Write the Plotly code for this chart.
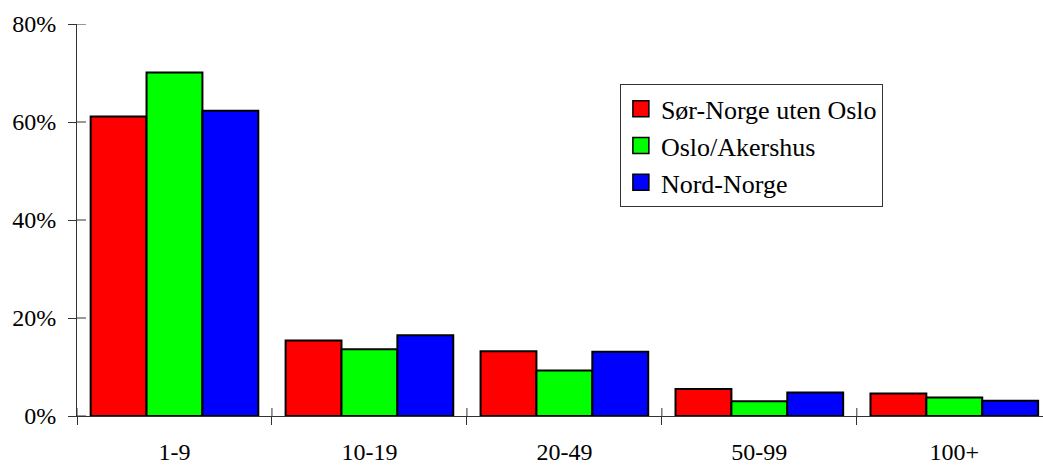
import plotly.graph_objects as go

categories = ["1-9", "10-19", "20-49", "50-99", "100+"]
series_names = ["Sør-Norge uten Oslo", "Oslo/Akershus", "Nord-Norge"]
sor_norge = [61.1, 15.4, 13.2, 5.5, 4.6]
oslo_akershus = [70.1, 13.6, 9.3, 3.0, 3.8]
nord_norge = [62.3, 16.5, 13.1, 4.8, 3.1]
y_tick_values = [0, 20, 40, 60, 80]
y_tick_labels = ["0%", "20%", "40%", "60%", "80%"]
colors = ["#FF0000", "#00FF00", "#0000FF"]

FONT = "Liberation Serif"

fig = go.Figure()
for i, (name, vals) in enumerate(zip(series_names, [sor_norge, oslo_akershus, nord_norge])):
    fig.add_trace(go.Bar(
        x=categories, y=vals, name=name, showlegend=False,
        marker=dict(color=colors[i], line=dict(color="#000000", width=2)),
    ))
# legend-only entries with larger square swatches
for i, name in enumerate(series_names):
    fig.add_trace(go.Scatter(
        x=[None], y=[None], mode="markers", name=name, legendgroup=f"g{i}",
        marker=dict(symbol="square", size=16, color=colors[i],
                    line=dict(color="#000000", width=1.5)),
    ))

# inside halves of the crossing tick marks
shapes = []
for b in [-0.5, 0.5, 1.5, 2.5, 3.5, 4.5]:
    shapes.append(dict(type="line", xref="x", yref="y", x0=b, x1=b,
                       ysizemode="pixel", yanchor=0, y0=0, y1=8,
                       line=dict(color="#333333", width=1)))
for t in y_tick_values:
    shapes.append(dict(type="line", xref="x", yref="y", y0=t, y1=t,
                       xsizemode="pixel", xanchor=-0.5, x0=0, x1=9,
                       line=dict(color="#333333", width=1)))

fig.update_layout(
    width=1043, height=465,
    margin=dict(l=77, r=0, t=24, b=49, autoexpand=False),
    paper_bgcolor="white", plot_bgcolor="white",
    barmode="group", bargap=0.14, bargroupgap=0,
    font=dict(family=FONT, size=24, color="#000000"),
    shapes=shapes,
    showlegend=True,
    legend=dict(
        x=0.562, y=0.846, xanchor="left", yanchor="top",
        bgcolor="white", bordercolor="#333333", borderwidth=1,
        font=dict(family=FONT, size=26, color="#000000"),
        tracegroupgap=3, traceorder="normal",
    ),
    xaxis=dict(
        type="category", range=[-0.5, 4.455], automargin=False,
        showline=True, linecolor="#333333", linewidth=1,
        ticks="outside", tickson="boundaries", ticklen=8, tickcolor="#333333", tickwidth=1,
        showgrid=False, zeroline=False, ticklabelstandoff=14,
        tickfont=dict(family=FONT, size=24),
    ),
    yaxis=dict(
        range=[0, 80], tickvals=y_tick_values, ticktext=y_tick_labels, automargin=False,
        showline=True, linecolor="#333333", linewidth=1,
        ticks="outside", ticklen=8, tickcolor="#333333", tickwidth=1,
        showgrid=False, zeroline=False, ticklabelstandoff=7,
        tickfont=dict(family=FONT, size=24),
    ),
)

fig.write_html("out.html", config={"displayModeBar": False},
               post_script="document.body.style.margin='0';")
